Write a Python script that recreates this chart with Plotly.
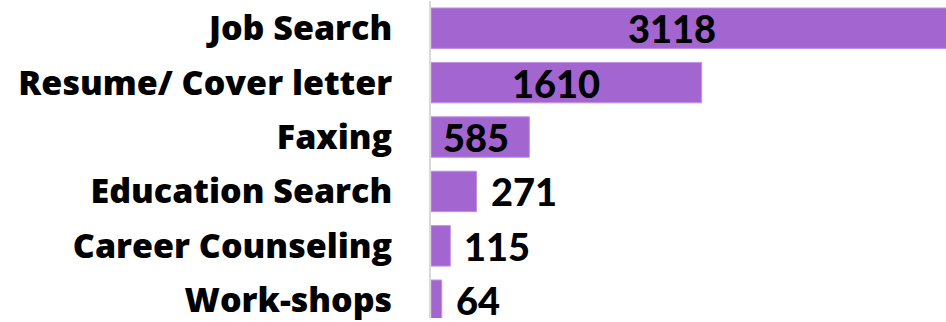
import plotly.graph_objects as go

# Usage counts per service
categories = ["Job Search", "Resume/ Cover letter", "Faxing",
              "Education Search", "Career Counseling", "Work-shops"]
counts = [3118, 1610, 585, 271, 115, 64]
label_inside = [True, True, True, False, False, False]

BAR_COLOR = "#a366d1"
LABEL_FONT = "Open Sans"
VALUE_FONT = "Lato"
X_MAX = 3063

fig = go.Figure(
    go.Bar(
        x=counts,
        y=categories,
        orientation="h",
        marker=dict(color=BAR_COLOR, line=dict(color="#bf93e3", width=1)),
        hoverinfo="x+y",
    )
)

# Value labels: inside long bars (a little left of centre), just past the end of short ones
for cat, val, inside in zip(categories, counts, label_inside):
    if inside:
        fig.add_annotation(
            x=val * 0.46, y=cat, text=str(val),
            xanchor="center", yanchor="middle", showarrow=False,
            font=dict(family=VALUE_FONT, size=38, color="black", weight=900),
        )
    else:
        fig.add_annotation(
            x=val, y=cat, text=str(val),
            xanchor="left", yanchor="middle", showarrow=False, xshift=12,
            font=dict(family=VALUE_FONT, size=38, color="black", weight=900),
        )

fig.update_layout(
    width=946,
    height=322,
    margin=dict(l=431, r=0, t=1, b=0),
    paper_bgcolor="white",
    plot_bgcolor="white",
    bargap=0.256,
    showlegend=False,
)

fig.update_xaxes(
    range=[0, X_MAX],
    showticklabels=False,
    showgrid=False,
    zeroline=False,
    showline=False,
    fixedrange=True,
)

fig.update_yaxes(
    type="category",
    range=[5.326, -0.5],
    autorange=False,
    showgrid=False,
    zeroline=False,
    showline=True,
    linecolor="#d9d9d9",
    linewidth=2,
    ticks="",
    ticklabelstandoff=30,
    tickfont=dict(family=LABEL_FONT, size=34, color="black", weight=800),
    fixedrange=True,
)

fig.write_html("out.html")
